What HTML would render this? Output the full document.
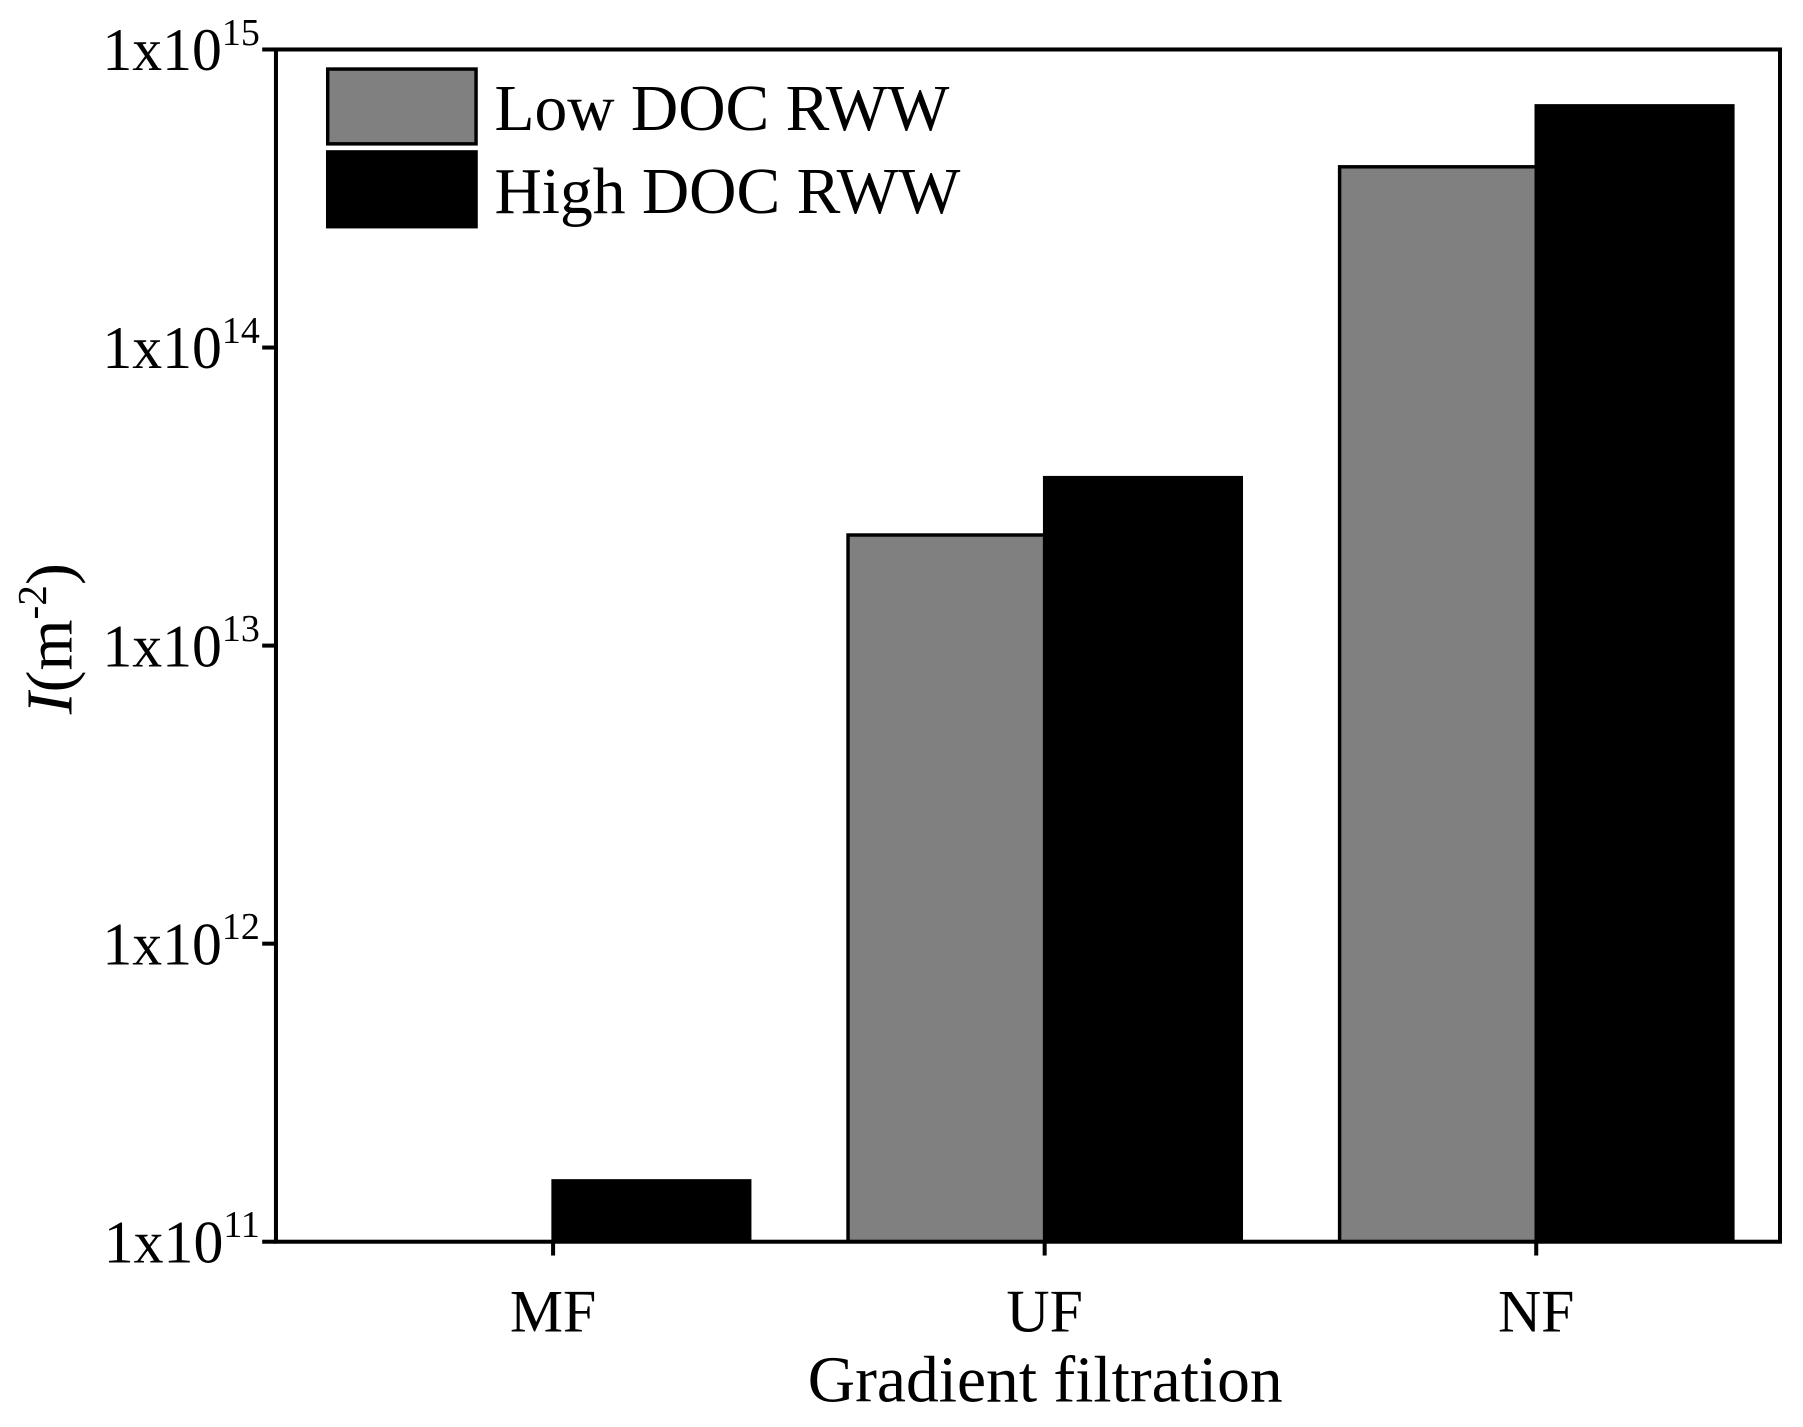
<!DOCTYPE html>
<html><head><meta charset="utf-8"><style>
html,body{margin:0;padding:0;background:#fff;}
svg{display:block;}
text{font-family:"Liberation Serif",serif;fill:#000;}
</style></head><body>
<svg id="chart" width="1803" height="1427" viewBox="0 0 1568 1240" preserveAspectRatio="none" xmlns="http://www.w3.org/2000/svg">
<g id="marks"></g>
<g id="axes"></g>
<text x="909" y="1218" font-size="57" text-anchor="middle">Gradient filtration</text>
<text transform="translate(62,555) rotate(-90)" font-size="57" text-anchor="middle"><tspan font-style="italic">I</tspan>(m<tspan font-size="36" dy="-22">-2</tspan><tspan dy="22">)</tspan></text>
<g>
<rect x="285" y="60" width="129" height="65" fill="#808080" stroke="#000" stroke-width="3"/>
<text x="430" y="113" font-size="57">Low DOC RWW</text>
<rect x="285" y="132" width="129" height="65" fill="#000" stroke="#000" stroke-width="3"/>
<text x="430" y="185" font-size="57">High DOC RWW</text>
</g>
</svg>
<script>
const categories = ["MF","UF","NF"];
const lowValues = [1e11, 2.35e13, 4.04e14];
const highValues = [1.6e11, 3.66e13, 6.47e14];
const tickExps = [11,12,13,14,15];

const L=240,R=1548,T=43,B=1079;
const yMinE=11,yMaxE=15;
function y(v){return B-(Math.log10(v)-yMinE)/(yMaxE-yMinE)*(B-T);}
function xc(i){return L+241+427.5*i;}
const bw=171;
const NS="http://www.w3.org/2000/svg";
const marks=document.getElementById('marks'), axes=document.getElementById('axes');
function mk(tag,attrs,parent){const e=document.createElementNS(NS,tag);for(const k in attrs)e.setAttribute(k,attrs[k]);parent.appendChild(e);return e;}
categories.forEach((c,i)=>{
  const cx=xc(i);
  const yl=y(lowValues[i]);
  const r1=mk('rect',{x:cx-bw,y:yl,width:bw,height:Math.max(0,B-yl),fill:'#808080',stroke:'#000','stroke-width':3},marks);
  
  
  const yh=y(highValues[i]);
  const r2=mk('rect',{x:cx,y:yh,width:bw,height:Math.max(0,B-yh),fill:'#000',stroke:'#000','stroke-width':3},marks);
  
  
  const t=mk('line',{x1:cx,x2:cx,y1:B,y2:B+12,stroke:'#000','stroke-width':3.5},axes);
  
  
  const lb=mk('text',{x:cx,y:1157,'font-size':52,'text-anchor':'middle'},axes);
  lb.textContent=c;
  
  
});
const frame=mk('rect',{x:L,y:T,width:R-L,height:B-T,fill:'none',stroke:'#000','stroke-width':3.5},axes);


tickExps.forEach(e=>{
  const yy=y(Math.pow(10,e));
  const t=mk('line',{x1:L-12,x2:L,y1:yy,y2:yy,stroke:'#000','stroke-width':3.5},axes);
  
  
  const tx=mk('text',{x:226,y:yy+18,'font-size':52,'text-anchor':'end'},axes);
  
  
  const a=document.createElementNS(NS,'tspan');a.textContent='1x10';tx.appendChild(a);
  const s=document.createElementNS(NS,'tspan');s.setAttribute('font-size','33');s.setAttribute('dy','-22');s.textContent=String(e);tx.appendChild(s);
});
</script>
</body></html>
